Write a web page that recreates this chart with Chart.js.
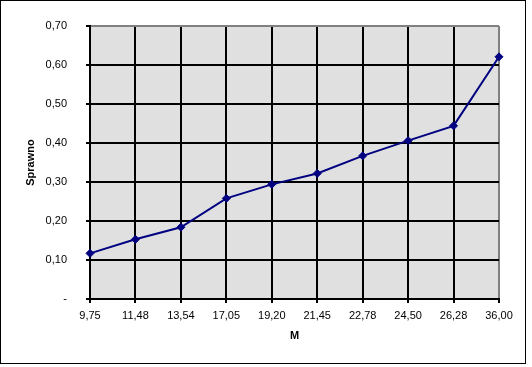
<!DOCTYPE html>
<html>
<head>
<meta charset="utf-8">
<script src="https://cdn.jsdelivr.net/npm/chart.js@4/dist/chart.umd.min.js"></script>
<style>
  html, body { margin: 0; padding: 0; background: #ffffff; }
  #c { display: block; }
</style>
</head>
<body>
<canvas id="c" width="532" height="367"></canvas>
<script>
const categories = ["9,75", "11,48", "13,54", "17,05", "19,20", "21,45", "22,78", "24,50", "26,28", "36,00"];
const sprawnoValues = [0.117, 0.153, 0.184, 0.258, 0.294, 0.322, 0.367, 0.406, 0.444, 0.621];
const yTickMin = 0;
const yTickMax = 0.7;
const yTickStep = 0.1;
const xTitle = "M";
const yTitle = "Sprawno";

const FONT = "'Liberation Sans', Arial, sans-serif";

const bgPlugin = {
  id: 'bgPlugin',
  beforeDraw(chart) {
    const { ctx, chartArea: a } = chart;
    ctx.save();
    ctx.fillStyle = '#ffffff';
    ctx.fillRect(0, 0, chart.width, chart.height);
    ctx.fillStyle = '#e0e0e0';
    ctx.fillRect(a.left, a.top, a.right - a.left, a.bottom - a.top);
    ctx.strokeStyle = '#000000';
    ctx.lineWidth = 1;
    ctx.strokeRect(0.5, 0.5, 525, 363);
    ctx.restore();
  }
};

new Chart(document.getElementById('c'), {
  type: 'line',
  data: {
    labels: categories,
    datasets: [{
      data: sprawnoValues,
      borderColor: '#000080',
      backgroundColor: '#000080',
      borderWidth: 2,
      pointStyle: 'rectRot',
      pointRadius: 4,
      pointHoverRadius: 4,
      pointBackgroundColor: '#000080',
      pointBorderColor: '#000080',
      pointBorderWidth: 1,
      tension: 0,
      fill: false
    }]
  },
  options: {
    responsive: false,
    animation: false,
    layout: { padding: { top: 26, right: 33, left: 0, bottom: 0 } },
    plugins: {
      legend: { display: false },
      tooltip: { enabled: false }
    },
    scales: {
      x: {
        offset: false,
        afterFit(s) { s.height = 68; },
        border: { display: true, color: '#000000', width: 2 },
        grid: {
          color: (c) => (c.index === categories.length - 1 ? '#808080' : '#000000'),
          lineWidth: 2,
          drawTicks: true,
          tickLength: 4,
          tickColor: '#000000',
          tickWidth: 2
        },
        ticks: {
          color: '#000000',
          font: { family: FONT, size: 11 },
          padding: 6,
          maxRotation: 0,
          autoSkip: false
        },
        title: {
          display: true,
          text: xTitle,
          color: '#000000',
          font: { family: FONT, size: 11, weight: 'bold' },
          padding: { top: 0, bottom: 24 }
        }
      },
      y: {
        min: yTickMin,
        max: yTickMax,
        afterFit(s) { s.width = 90; },
        border: { display: true, color: '#000000', width: 2 },
        grid: {
          color: (c) => (c.tick && Math.abs(c.tick.value - yTickMax) < 1e-9 ? '#808080' : '#000000'),
          lineWidth: 2,
          drawTicks: true,
          tickLength: 4,
          tickColor: '#000000',
          tickWidth: 2
        },
        ticks: {
          stepSize: yTickStep,
          color: '#000000',
          font: { family: FONT, size: 11 },
          padding: 19,
          callback: (v) => {
            const r = Math.round(v * 100) / 100;
            return r === 0 ? '-' : r.toFixed(2).replace('.', ',');
          }
        },
        title: {
          display: true,
          text: yTitle,
          color: '#000000',
          font: { family: FONT, size: 11, weight: 'bold' },
          padding: { top: 24, bottom: 0 }
        }
      }
    }
  },
  plugins: [bgPlugin]
});
</script>
</body>
</html>
